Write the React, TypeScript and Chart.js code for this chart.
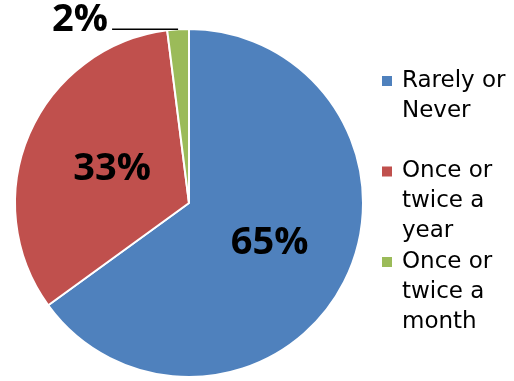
import React, { useEffect, useRef } from "react";
import { Chart, registerables } from "chart.js";

Chart.register(...registerables);

const categories = ["Rarely or Never", "Once or twice a year", "Once or twice a month"];
const legendLines = [["Rarely or", "Never"], ["Once or", "twice a", "year"], ["Once or", "twice a", "month"]];
const values = [65, 33, 2];
const valueLabels = ["65%", "33%", "2%"];
const colors = ["#4F81BD", "#C0504D", "#9BBB59"];

const labelPlugin = {
  id: "pieLabels",
  afterDatasetsDraw(chart: any) {
    const ctx = chart.ctx;
    const meta = chart.getDatasetMeta(0);
    ctx.save();
    ctx.fillStyle = "#000";
    ctx.font = "bold 38px 'Open Sans'";
    meta.data.forEach((arc: any, i: number) => {
      const p = arc.getProps(["x", "y", "startAngle", "endAngle", "outerRadius"], true);
      const mid = (p.startAngle + p.endAngle) / 2;
      if (values[i] >= 10) {
        const r = p.outerRadius * 0.5;
        ctx.textAlign = "center";
        ctx.textBaseline = "alphabetic";
        ctx.fillText(valueLabels[i], p.x + Math.cos(mid) * r + 3, p.y + Math.sin(mid) * r + 12);
      } else {
        const ex = p.x + Math.cos(mid) * p.outerRadius;
        const ey = p.y + Math.sin(mid) * p.outerRadius;
        const sx = ex - 66;
        ctx.strokeStyle = "#000";
        ctx.lineWidth = 1.5;
        ctx.beginPath();
        ctx.moveTo(ex, ey);
        ctx.lineTo(sx, ey);
        ctx.stroke();
        ctx.textAlign = "right";
        ctx.textBaseline = "alphabetic";
        ctx.fillText(valueLabels[i], sx - 4, ey + 2);
      }
    });
    ctx.restore();
  },
};

const legendPlugin = {
  id: "sideLegend",
  afterDraw(chart: any) {
    const ctx = chart.ctx;
    const area = chart.chartArea;
    const x0 = area.right + 18;
    const y0 = 81;
    const lineH = 30;
    const itemH = 90.5;
    ctx.save();
    ctx.font = "23px 'DejaVu Sans'";
    ctx.textBaseline = "middle";
    ctx.textAlign = "left";
    categories.forEach((_c, i) => {
      const y = y0 + i * itemH;
      ctx.fillStyle = colors[i];
      ctx.fillRect(x0, y - 5, 10, 10);
      ctx.fillStyle = "#000";
      legendLines[i].forEach((line, j) => {
        ctx.fillText(line, x0 + 20, y + j * lineH);
      });
    });
    ctx.restore();
  },
};

export default function App() {
  const ref = useRef<HTMLCanvasElement>(null);
  useEffect(() => {
    if (!ref.current) return;
    const chart = new Chart(ref.current, {
      type: "pie",
      data: {
        labels: categories,
        datasets: [
          {
            data: values,
            backgroundColor: colors,
            borderColor: "#ffffff",
            borderWidth: 2,
          },
        ],
      },
      options: {
        responsive: false,
        animation: false,
        devicePixelRatio: 1,
        layout: { padding: { left: 14, top: 28, right: 150, bottom: 3 } },
        plugins: {
          legend: { display: false },
          tooltip: { enabled: false },
        },
      },
      plugins: [labelPlugin, legendPlugin],
    });
    return () => chart.destroy();
  }, []);
  return (
    <div style={{ position: "fixed", left: 0, top: 0, width: 514, height: 381, background: "#fff" }}>
      <canvas ref={ref} width={514} height={381} style={{ width: 514, height: 381 }} />
    </div>
  );
}
